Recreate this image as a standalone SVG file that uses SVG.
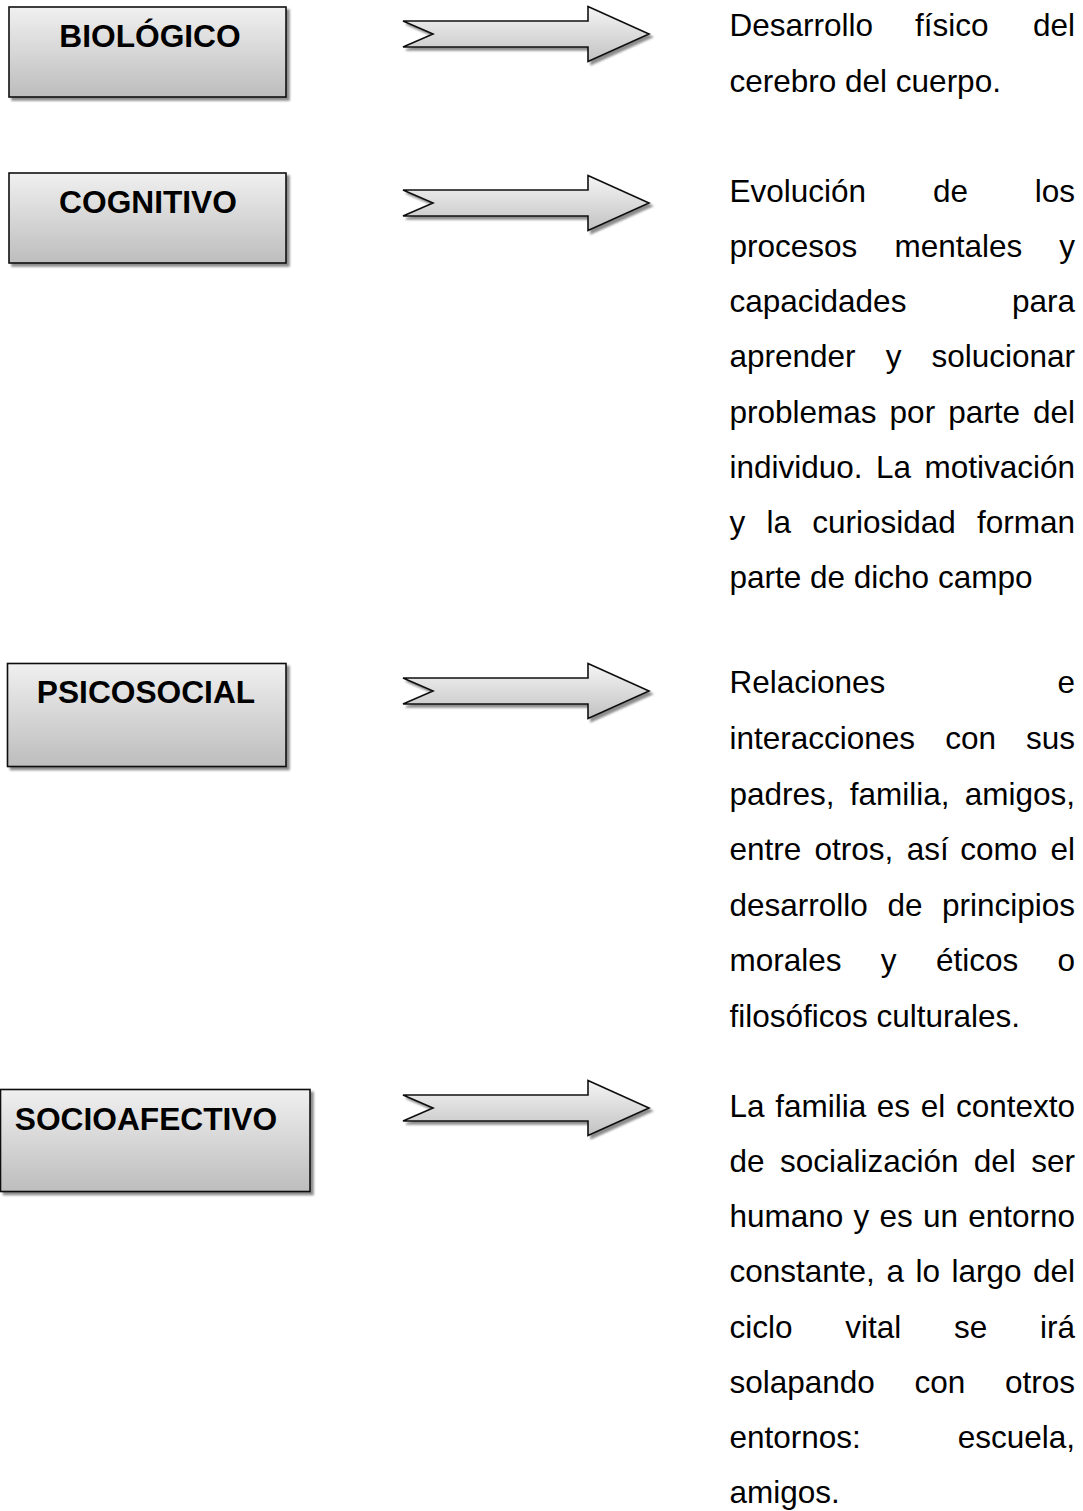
<svg xmlns="http://www.w3.org/2000/svg" width="1083" height="1511" viewBox="0 0 1083 1511">
  <defs>
    <linearGradient id="boxGrad" x1="0" y1="0" x2="0" y2="1">
      <stop offset="0" stop-color="#f0f0f0"/>
      <stop offset="1" stop-color="#bdbdbd"/>
    </linearGradient>
    <linearGradient id="arrowGrad" x1="0" y1="0" x2="0" y2="1">
      <stop offset="0" stop-color="#f5f5f5"/>
      <stop offset="1" stop-color="#c2c2c2"/>
    </linearGradient>
    <filter id="shadow" x="-10%" y="-20%" width="130%" height="150%">
      <feGaussianBlur in="SourceAlpha" stdDeviation="1.2"/>
      <feOffset dx="3" dy="3" result="off"/>
      <feComponentTransfer><feFuncA type="linear" slope="0.45"/></feComponentTransfer>
      <feMerge><feMergeNode/><feMergeNode in="SourceGraphic"/></feMerge>
    </filter>
  </defs>
  <style>
    .box { fill: url(#boxGrad); stroke: #111; stroke-width: 1.6; filter: url(#shadow); }
    .arrow { fill: url(#arrowGrad); stroke: #111; stroke-width: 1.6; stroke-linejoin: miter; filter: url(#shadow); }
    .title { font-family: "Liberation Sans", Arial, sans-serif; font-weight: bold; font-size: 31.7px; fill: #000; text-anchor: middle; }
    .body { font-family: "Liberation Sans", Arial, sans-serif; font-size: 31.5px; fill: #000; }
    .end { text-anchor: end; }
  </style>
  <rect width="1083" height="1511" fill="#ffffff"/>

  <g id="node-biologico">
    <rect class="box" x="9" y="7" width="277" height="90"/>
    <text class="title" x="150" y="46.5">BIOLÓGICO</text>
  </g>
  <g id="node-cognitivo">
    <rect class="box" x="9" y="173" width="277" height="90"/>
    <text class="title" x="148" y="213">COGNITIVO</text>
  </g>
  <g id="node-psicosocial">
    <rect class="box" x="7.5" y="663.5" width="278.5" height="103"/>
    <text class="title" x="146" y="703">PSICOSOCIAL</text>
  </g>
  <g id="node-socioafectivo">
    <rect class="box" x="0.5" y="1089.5" width="309.5" height="102"/>
    <text class="title" x="146" y="1130">SOCIOAFECTIVO</text>
  </g>

  <g id="connectors">
    <polygon class="arrow" points="403,21 433,34 403,47 588,47 588,61.5 649,34 588,6.5 588,21"/>
    <polygon class="arrow" points="403,190 433,203 403,216 588,216 588,230.5 649,203 588,175.5 588,190"/>
    <polygon class="arrow" points="403,678 433,691 403,704 588,704 588,718.5 649,691 588,663.5 588,678"/>
    <polygon class="arrow" points="403,1095 433,1108 403,1121 588,1121 588,1135.5 649,1108 588,1080.5 588,1095"/>
  </g>

  <g id="desc-biologico" class="body">
    <text class="body" x="729.5" y="35.5">Desarrollo</text>
    <text class="body" x="915" y="35.5">físico</text>
    <text class="body end" x="1075" y="35.5">del</text>
    <text class="body" x="729.5" y="91.5">cerebro del cuerpo.</text>
  </g>

  <g id="desc-cognitivo">
    <text class="body" x="729.5" y="201.7">Evolución</text>
    <text class="body" x="932.9" y="201.7">de</text>
    <text class="body end" x="1075" y="201.7">los</text>

    <text class="body" x="729.5" y="256.9">procesos</text>
    <text class="body" x="894.4" y="256.9">mentales</text>
    <text class="body end" x="1075" y="256.9">y</text>

    <text class="body" x="729.5" y="312.1">capacidades</text>
    <text class="body end" x="1075" y="312.1">para</text>

    <text class="body" x="729.5" y="367.3">aprender</text>
    <text class="body" x="885.7" y="367.3">y</text>
    <text class="body end" x="1075" y="367.3">solucionar</text>

    <text class="body" x="729.5" y="422.5">problemas</text>
    <text class="body" x="889.6" y="422.5">por</text>
    <text class="body" x="948.2" y="422.5">parte</text>
    <text class="body end" x="1075" y="422.5">del</text>

    <text class="body" x="729.5" y="477.7">individuo.</text>
    <text class="body" x="876" y="477.7">La</text>
    <text class="body end" x="1075" y="477.7">motivación</text>

    <text class="body" x="729.5" y="532.9">y</text>
    <text class="body" x="766.5" y="532.9">la</text>
    <text class="body" x="812.3" y="532.9">curiosidad</text>
    <text class="body end" x="1075" y="532.9">forman</text>

    <text class="body" x="729.5" y="588.1">parte de dicho campo</text>
  </g>

  <g id="desc-psicosocial">
    <text class="body" x="729.5" y="693.3">Relaciones</text>
    <text class="body end" x="1075" y="693.3">e</text>

    <text class="body" x="729.5" y="748.9">interacciones</text>
    <text class="body" x="945.2" y="748.9">con</text>
    <text class="body end" x="1075" y="748.9">sus</text>

    <text class="body" x="729.5" y="804.5">padres,</text>
    <text class="body" x="849.8" y="804.5">familia,</text>
    <text class="body end" x="1075" y="804.5">amigos,</text>

    <text class="body" x="729.5" y="860.1">entre</text>
    <text class="body" x="814.6" y="860.1">otros,</text>
    <text class="body" x="906.7" y="860.1">así</text>
    <text class="body" x="960.2" y="860.1">como</text>
    <text class="body end" x="1075" y="860.1">el</text>

    <text class="body" x="729.5" y="915.7">desarrollo</text>
    <text class="body" x="887.4" y="915.7">de</text>
    <text class="body end" x="1075" y="915.7">principios</text>

    <text class="body" x="729.5" y="971.3">morales</text>
    <text class="body" x="880.8" y="971.3">y</text>
    <text class="body" x="935.9" y="971.3">éticos</text>
    <text class="body end" x="1075" y="971.3">o</text>

    <text class="body" x="729.5" y="1026.9">filosóficos culturales.</text>
  </g>

  <g id="desc-socioafectivo">
    <text class="body" x="729.5" y="1116.7">La</text>
    <text class="body" x="775.2" y="1116.7">familia</text>
    <text class="body" x="876.8" y="1116.7">es</text>
    <text class="body" x="920.8" y="1116.7">el</text>
    <text class="body end" x="1075" y="1116.7">contexto</text>

    <text class="body" x="729.5" y="1171.9">de</text>
    <text class="body" x="779.9" y="1171.9">socialización</text>
    <text class="body" x="973.8" y="1171.9">del</text>
    <text class="body end" x="1075" y="1171.9">ser</text>

    <text class="body" x="729.5" y="1227.1">humano</text>
    <text class="body" x="853.5" y="1227.1">y</text>
    <text class="body" x="879.5" y="1227.1">es</text>
    <text class="body" x="923" y="1227.1">un</text>
    <text class="body end" x="1075" y="1227.1">entorno</text>

    <text class="body" x="729.5" y="1282.3">constante,</text>
    <text class="body" x="886.4" y="1282.3">a</text>
    <text class="body" x="915.4" y="1282.3">lo</text>
    <text class="body" x="951.5" y="1282.3">largo</text>
    <text class="body end" x="1075" y="1282.3">del</text>

    <text class="body" x="729.5" y="1337.5">ciclo</text>
    <text class="body" x="845.2" y="1337.5">vital</text>
    <text class="body" x="953.9" y="1337.5">se</text>
    <text class="body end" x="1075" y="1337.5">irá</text>

    <text class="body" x="729.5" y="1392.7">solapando</text>
    <text class="body" x="914.5" y="1392.7">con</text>
    <text class="body end" x="1075" y="1392.7">otros</text>

    <text class="body" x="729.5" y="1447.9">entornos:</text>
    <text class="body end" x="1075" y="1447.9">escuela,</text>

    <text class="body" x="729.5" y="1503.1">amigos.</text>
  </g>
</svg>
